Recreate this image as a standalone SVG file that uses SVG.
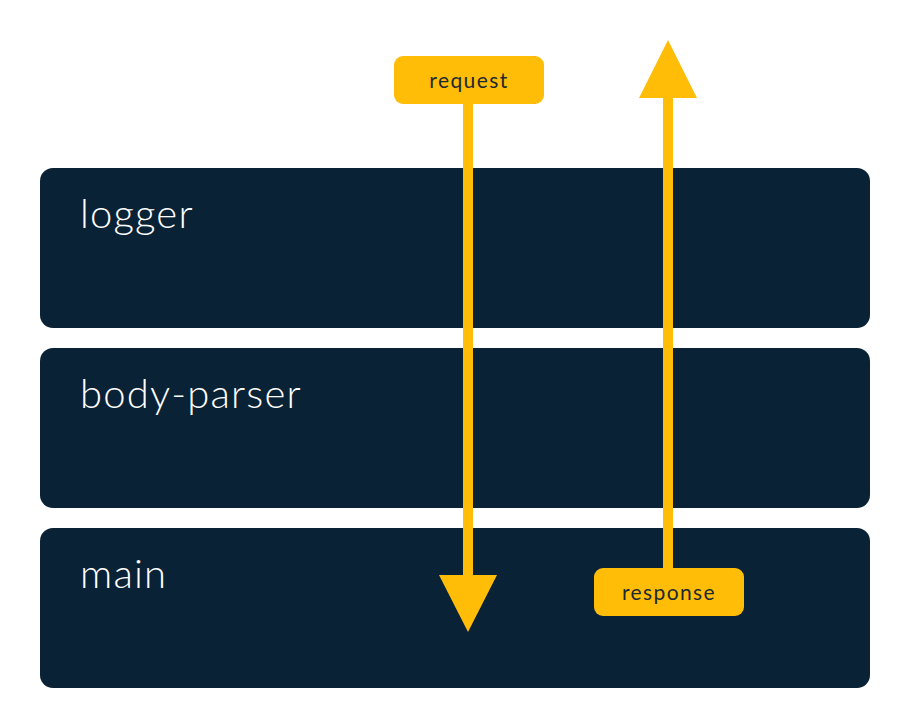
<svg xmlns="http://www.w3.org/2000/svg" width="910" height="728" viewBox="0 0 910 728">
<style>
.box{fill:#0a2235}
.name{font-family:Lato,"Noto Sans",sans-serif;font-size:40px;font-weight:300;fill:#ffffff;letter-spacing:1.2px}
.lab{fill:#ffbd08}
.labt{font-family:Lato,"Noto Sans",sans-serif;font-size:21px;fill:#1e2a33;text-anchor:middle;letter-spacing:1.4px}
.arr{fill:#ffbd08}
</style>
<rect width="910" height="728" fill="#ffffff"/>
<g id="logger"><rect class="box" x="40" y="168" width="830" height="160" rx="13"/><text class="name" x="80" y="228">logger</text></g>
<g id="body-parser"><rect class="box" x="40" y="348" width="830" height="160" rx="13"/><text class="name" x="80" y="408">body-parser</text></g>
<g id="main"><rect class="box" x="40" y="528" width="830" height="160" rx="13"/><text class="name" x="80" y="588">main</text></g>
<g id="connectors">
<rect class="arr" x="463" y="100" width="10" height="478"/>
<polygon class="arr" points="439,575 497,575 468,632"/>
<rect class="arr" x="663" y="95" width="10" height="476"/>
<polygon class="arr" points="639,98 697,98 668,40"/>
</g>
<g id="request"><rect class="lab" x="394" y="56" width="150" height="48" rx="9"/><text class="labt" x="469" y="88">request</text></g>
<g id="response"><rect class="lab" x="594" y="568" width="150" height="48" rx="9"/><text class="labt" x="669" y="600">response</text></g>
</svg>
